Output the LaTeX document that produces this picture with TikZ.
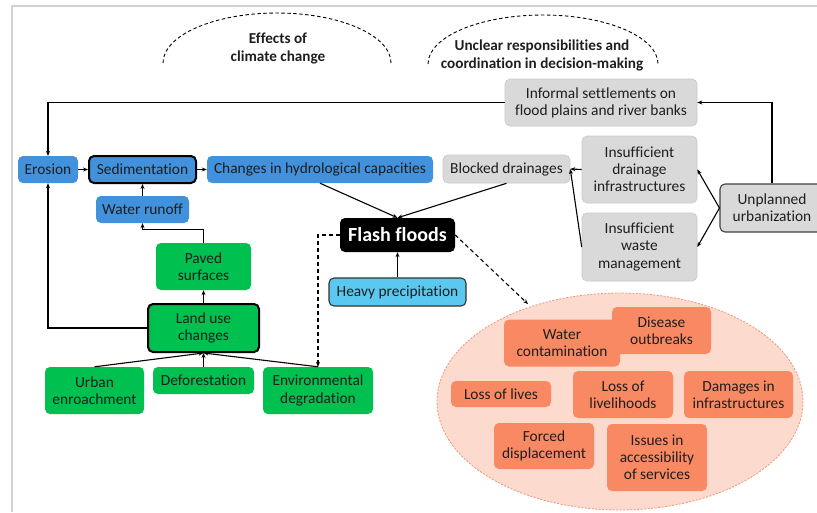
\documentclass[tikz,border=0pt]{standalone}
\usepackage{fontspec}
\setmainfont{Carlito}[Ligatures=NoCommon]
\usetikzlibrary{arrows.meta,calc}
\definecolor{cblue}{RGB}{65,145,220}
\definecolor{cgreen}{RGB}{0,192,80}
\definecolor{cgray}{RGB}{217,217,217}
\definecolor{cgrayline}{RGB}{200,200,200}
\definecolor{csalmon}{RGB}{248,137,99}
\definecolor{cellfill}{RGB}{252,218,206}
\definecolor{cellline}{RGB}{240,150,120}
\definecolor{cprecip}{RGB}{91,200,240}
\definecolor{cframe}{RGB}{210,210,210}
\definecolor{ctext}{RGB}{30,30,30}
\begin{document}
\begin{tikzpicture}[x=1pt,y=-1pt,
  every node/.style={font=\fontsize{15.4}{17.2}\selectfont, align=center, inner sep=0pt, text=ctext},
  box/.style={rounded corners=5pt},
  bluebox/.style={box, fill=cblue},
  greenbox/.style={box, fill=cgreen},
  graybox/.style={box, fill=cgray, draw=cgrayline, line width=0.6pt},
  salbox/.style={box, fill=csalmon},
  thickb/.style={draw=black, line width=2pt},
  arr/.style={-{Stealth[length=5pt,width=4pt]}, line width=1.1pt, black},
  darr/.style={arr, dashed, dash pattern=on 4pt off 3pt},
  heading/.style={font=\fontsize{15.2}{18}\selectfont\bfseries}
]
\useasboundingbox (0,0) rectangle (817,512);
% frame
\draw[cframe, line width=1.5pt] (12,512) -- (12,6) -- (817,6);
% dashed arcs
\draw[dashed, line width=0.9pt, dash pattern=on 3.5pt off 2.5pt] (163,63) arc[start angle=180, end angle=360, x radius=114, y radius=50];
\draw[dashed, line width=0.9pt, dash pattern=on 3.5pt off 2.5pt] (428,64) arc[start angle=180, end angle=360, x radius=115, y radius=49];
\node[heading] (h1) at (278,49) {Effects of\\climate change};
\node[heading] (h2) at (542,55) {Unclear responsibilities and\\coordination in decision-making};
% ellipse
\draw[fill=cellfill, draw=cellline, dashed, line width=0.8pt, dash pattern=on 2pt off 1.5pt] (620,401.5) ellipse[x radius=183, y radius=108.5];
% nodes
\node[graybox, minimum width=192, minimum height=47] (inf) at (601,102.5) {Informal settlements on\\flood plains and river banks};
\node[bluebox, minimum width=60, minimum height=27] (ero) at (48,169.5) {Erosion};
\node[bluebox, thickb, minimum width=107, minimum height=27] (sed) at (142.5,169.5) {Sedimentation};
\node[bluebox, minimum width=226, minimum height=27] (chg) at (320,169.5) {Changes in hydrological capacities};
\node[graybox, minimum width=127, minimum height=28] (blk) at (506.5,169) {Blocked drainages};
\node[graybox, minimum width=115, minimum height=67] (idr) at (639.5,169.5) {Insufficient\\drainage\\infrastructures};
\node[graybox, minimum width=115, minimum height=68] (iwm) at (639.5,247) {Insufficient\\waste\\management};
\node[box, fill=cgray, draw=black!75, line width=1.1pt, minimum width=104, minimum height=48] (unp) at (772,208) {Unplanned\\urbanization};
\node[bluebox, minimum width=93, minimum height=27] (wro) at (142.5,209.5) {Water runoff};
\node[greenbox, minimum width=95, minimum height=47] (pav) at (203.5,266.5) {Paved\\surfaces};
\node[greenbox, thickb, minimum width=111, minimum height=48] (luc) at (203.5,328) {Land use\\changes};
\node[greenbox, minimum width=99, minimum height=47] (urb) at (94.5,390.5) {Urban\\enroachment};
\node[greenbox, minimum width=101, minimum height=27] (def) at (203.5,380.5) {Deforestation};
\node[greenbox, minimum width=110, minimum height=47] (env) at (318,390.5) {Environmental\\degradation};
\node[box, fill=black, text=white, font=\fontsize{20}{22}\selectfont\bfseries, minimum width=115, minimum height=34] (ff) at (397.5,235) {Flash floods};
\node[box, fill=cprecip, draw=black!80, line width=1.1pt, minimum width=137, minimum height=28] (hp) at (397.5,292) {Heavy precipitation};
\node[salbox, minimum width=116, minimum height=47] (wc) at (562,343) {Water\\contamination};
\node[salbox, minimum width=99, minimum height=47] (dis) at (661.5,330.5) {Disease\\outbreaks};
\node[salbox, minimum width=100, minimum height=26] (lol) at (501,394) {Loss of lives};
\node[salbox, minimum width=100, minimum height=47] (liv) at (623,394.5) {Loss of\\livelihoods};
\node[salbox, minimum width=109, minimum height=47] (dam) at (738.5,394.5) {Damages in\\infrastructures};
\node[salbox, minimum width=100, minimum height=46] (fd) at (544,446) {Forced\\displacement};
\node[salbox, minimum width=100, minimum height=67] (iss) at (657,457.5) {Issues in\\accessibility\\of services};
\coordinate (ellin) at (528,304);
% connectors
\draw[arr] (inf.west) -| (ero.north);
\draw[arr] (unp.north) |- (inf.east);
\draw[arr] (unp.west) -- (idr.east);
\draw[arr] (unp.west) -- (iwm.east);
\draw[arr] (idr.west) -- (blk.east);
\draw[arr] (iwm.west) -- (blk.east);
\draw[arr] (blk.south) -- (ff.north);
\draw[arr] (chg.south) -- (ff.north);
\draw[arr] (ero) -- (sed);
\draw[arr] (sed) -- (chg);
\draw[arr] (wro) -- (sed);
\draw[arr] (pav.north) -- ++(0,-13) -| (wro.south);
\draw[arr] (luc) -- (pav);
\draw[arr] (luc.west) -| (ero.south);
\draw[arr] (urb.north) -- (luc.south);
\draw[arr] (def.north) -- (luc.south);
\draw[arr] (env.north) -- (luc.south);
\draw[arr] (hp) -- (ff);
\draw[darr] (ff.west) -| (env.north);
\draw[darr] (ff.east) -- (ellin);
\end{tikzpicture}
\end{document}
